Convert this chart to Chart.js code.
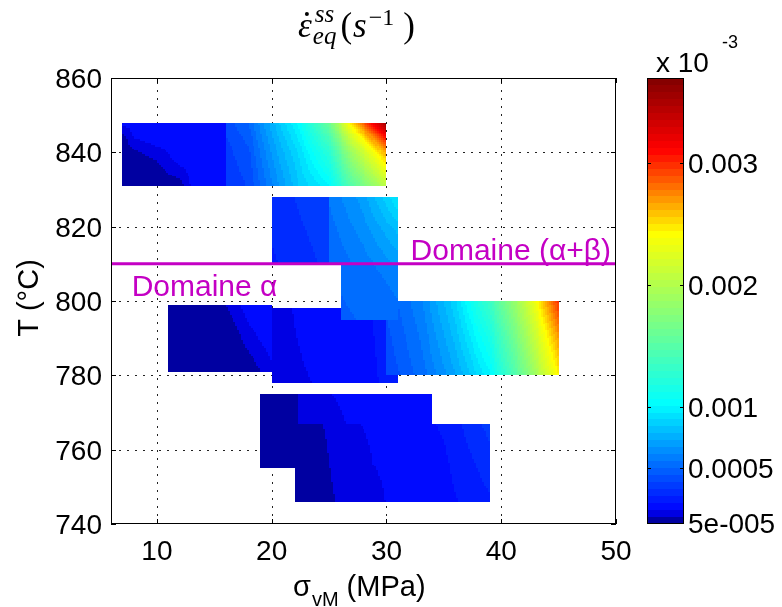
<!DOCTYPE html>
<html>
<head>
<meta charset="utf-8">
<title>Steady-state strain rate map</title>
<script src="https://cdn.jsdelivr.net/npm/chart.js@4.4.1/dist/chart.umd.min.js"></script>
<style>
  html, body { margin: 0; padding: 0; background: #fff; }
  #box { width: 782px; height: 607px; }
</style>
</head>
<body>
<div id="box"><canvas id="rateMap" width="782" height="607"></canvas></div>
<script>
// axis ticks
const sigmaTicks = [10, 20, 30, 40, 50];
const tempTicks = [740, 760, 780, 800, 820, 840, 860];
const rateTicks = [0.003, 0.002, 0.001, 0.0005, 0.00005];
const rateTickLabels = ["0.003", "0.002", "0.001", "0.0005", "5e-005"];
const rateMin = 4e-5;
const rateMax = 3.7e-3;

// alpha / alpha+beta transus
const boundaryT = 810;

// maps (sigma nodes in MPa, T nodes in degC, strain rate in s^-1), drawn in this order
const topLowSigma = [7, 8, 10, 12, 13, 16];
const topLowTemp = [848, 844, 838, 831];
const topLowRate = [
  [1.8e-4, 1.8e-4, 1.9e-4, 1.9e-4, 1.9e-4, 2.0e-4],
  [6e-5, 1.6e-4, 1.9e-4, 1.9e-4, 1.9e-4, 2.0e-4],
  [5e-5, 5e-5, 1.0e-4, 1.8e-4, 1.9e-4, 2.0e-4],
  [5e-5, 5e-5, 5e-5, 7e-5, 1.6e-4, 2.0e-4]
];

const topHighSigma = [16, 18, 20, 22.5, 25, 27, 29, 30];
const topHighTemp = [848, 840, 831];
const topHighRate = [
  [4.0e-4, 5.0e-4, 7.6e-4, 1.05e-3, 1.6e-3, 2.5e-3, 3.2e-3, 3.6e-3],
  [3.6e-4, 4.3e-4, 6.8e-4, 9.2e-4, 1.25e-3, 1.9e-3, 2.4e-3, 2.7e-3],
  [3.3e-4, 3.9e-4, 6.0e-4, 8.5e-4, 1.0e-3, 1.5e-3, 1.85e-3, 2.05e-3]
];

const midLeftSigma = [11, 15, 16.5, 18, 20];
const midLeftTemp = [799, 790, 781];
const midLeftRate = [
  [5e-5, 5e-5, 1.2e-4, 1.9e-4, 1.9e-4],
  [5e-5, 5e-5, 5e-5, 1.3e-4, 1.9e-4],
  [5e-5, 5e-5, 5e-5, 5e-5, 1.4e-4]
];

const midSigma = [20, 24, 28, 31];
const midTemp = [798, 778];
const midRate = [
  [1.5e-4, 1.6e-4, 2.0e-4, 2.5e-4],
  [1.5e-4, 1.55e-4, 1.9e-4, 2.4e-4]
];

const midRightSigma = [30, 33, 36, 39, 42, 45];
const midRightTemp = [800, 790, 780];
const midRightRate = [
  [4.5e-4, 6.0e-4, 8.8e-4, 1.35e-3, 2.05e-3, 3.0e-3],
  [4.2e-4, 5.6e-4, 8.0e-4, 1.15e-3, 1.85e-3, 2.7e-3],
  [3.9e-4, 5.2e-4, 7.2e-4, 1.0e-3, 1.65e-3, 2.45e-3]
];

const columnSigma = [26, 31];
const columnTemp = [810, 795];
const columnRate = [
  [5.2e-4, 5.8e-4],
  [4.8e-4, 5.4e-4]
];

const upLeftSigma = [20, 25];
const upLeftTemp = [828, 810];
const upLeftRate = [
  [2.9e-4, 3.8e-4],
  [2.6e-4, 3.4e-4]
];

const upRightSigma = [25, 28, 31];
const upRightTemp = [828, 819, 810];
const upRightRate = [
  [5.6e-4, 7.0e-4, 9.6e-4],
  [5.3e-4, 6.4e-4, 8.0e-4],
  [5.0e-4, 5.8e-4, 6.8e-4]
];

const lowASigma = [19, 21.8, 23, 28, 34];
const lowATemp = [775, 755];
const lowARate = [
  [5e-5, 6e-5, 1.5e-4, 1.6e-4, 1.9e-4],
  [5e-5, 5e-5, 1.3e-4, 1.6e-4, 1.9e-4]
];

const lowBSigma = [22, 24, 26, 30, 35, 39];
const lowBTemp = [767, 756, 746];
const lowBRate = [
  [5e-5, 8e-5, 1.5e-4, 1.6e-4, 2.2e-4, 3.5e-4],
  [5e-5, 5e-5, 1.4e-4, 1.6e-4, 2.0e-4, 3.0e-4],
  [5e-5, 5e-5, 1.1e-4, 1.55e-4, 1.9e-4, 2.6e-4]
];

const maps = [
  [topLowSigma, topLowTemp, topLowRate],
  [topHighSigma, topHighTemp, topHighRate],
  [midLeftSigma, midLeftTemp, midLeftRate],
  [midSigma, midTemp, midRate],
  [midRightSigma, midRightTemp, midRightRate],
  [columnSigma, columnTemp, columnRate],
  [upLeftSigma, upLeftTemp, upLeftRate],
  [upRightSigma, upRightTemp, upRightRate],
  [lowASigma, lowATemp, lowARate],
  [lowBSigma, lowBTemp, lowBRate]
];

// colour map (jet-like, 64 levels)
const mapStops = [0, 0.03, 0.27, 0.65, 0.84, 1];
const mapColors = [[0, 0, 128], [0, 0, 255], [0, 255, 255], [255, 255, 0], [255, 0, 0], [128, 0, 0]];
const LEVELS = 64;

function levelColor(k) {
  const f = (k + 0.5) / LEVELS;
  let i = 0;
  while (i < mapStops.length - 2 && f > mapStops[i + 1]) i++;
  const t = (f - mapStops[i]) / (mapStops[i + 1] - mapStops[i]);
  const c0 = mapColors[i], c1 = mapColors[i + 1];
  const c = c0.map((v, j) => Math.round(v + (c1[j] - v) * t));
  return `rgb(${c[0]},${c[1]},${c[2]})`;
}
const palette = [];
for (let k = 0; k < LEVELS; k++) palette.push(levelColor(k));

function rateColor(v) {
  let f = (v - rateMin) / (rateMax - rateMin);
  let k = Math.floor(f * LEVELS);
  k = Math.max(0, Math.min(LEVELS - 1, k));
  return palette[k];
}

// interp shading of one map
function drawMap(ctx, xs, ys, sig, tem, rate) {
  for (let i = 0; i < tem.length - 1; i++) {
    for (let j = 0; j < sig.length - 1; j++) {
      const x0 = xs.getPixelForValue(sig[j]), x1 = xs.getPixelForValue(sig[j + 1]);
      const y0 = ys.getPixelForValue(tem[i]), y1 = ys.getPixelForValue(tem[i + 1]);
      const nx = Math.max(1, Math.ceil(Math.abs(x1 - x0) / 2));
      const ny = Math.max(1, Math.ceil(Math.abs(y1 - y0) / 2));
      const v00 = rate[i][j], v01 = rate[i][j + 1], v10 = rate[i + 1][j], v11 = rate[i + 1][j + 1];
      for (let a = 0; a < nx; a++) {
        const u = (a + 0.5) / nx;
        const xa = Math.round(x0 + (x1 - x0) * a / nx);
        const xb = Math.round(x0 + (x1 - x0) * (a + 1) / nx);
        for (let b = 0; b < ny; b++) {
          const w = (b + 0.5) / ny;
          const ya = Math.round(y0 + (y1 - y0) * b / ny);
          const yb = Math.round(y0 + (y1 - y0) * (b + 1) / ny);
          const v = (v00 * (1 - u) + v01 * u) * (1 - w) + (v10 * (1 - u) + v11 * u) * w;
          ctx.fillStyle = rateColor(v);
          ctx.fillRect(Math.min(xa, xb), Math.min(ya, yb), Math.abs(xb - xa), Math.abs(yb - ya));
        }
      }
    }
  }
}

const SANS = '"Liberation Sans", Arial, sans-serif';
const SERIF = '"Liberation Serif", "DejaVu Serif", serif';
const MAGENTA = "#c400c4";

function drawTitle(ctx) {
  const base = 37;
  let x = 298;
  ctx.fillStyle = "#000";
  ctx.textAlign = "left";
  ctx.textBaseline = "alphabetic";
  ctx.font = "italic 35px " + SERIF;
  ctx.fillText("\u03b5", x, base);
  const we = ctx.measureText("\u03b5").width;
  ctx.beginPath();
  ctx.arc(x + we / 2 + 2, base - 23, 2, 0, Math.PI * 2);
  ctx.fill();
  x += we + 1;
  ctx.font = "italic 25px " + SERIF;
  ctx.fillText("eq", x, base + 7);
  ctx.fillText("ss", x + 2, base - 15);
  x += Math.max(ctx.measureText("eq").width, ctx.measureText("ss").width + 2) + 4;
  ctx.font = "35px " + SERIF;
  ctx.fillText("(", x, base);
  x += ctx.measureText("(").width + 1;
  ctx.font = "italic 35px " + SERIF;
  ctx.fillText("s", x, base);
  x += ctx.measureText("s").width + 2;
  ctx.font = "24px " + SERIF;
  ctx.fillText("\u22121", x, base - 12);
  x += ctx.measureText("\u22121").width + 9;
  ctx.font = "35px " + SERIF;
  ctx.fillText(")", x, base);
}

const mapPlugin = {
  id: "rateMap",
  beforeDatasetsDraw(chart) {
    const { ctx, chartArea: a, scales: { x, y } } = chart;
    ctx.save();
    // dotted grid
    ctx.strokeStyle = "#222";
    ctx.lineWidth = 1;
    ctx.setLineDash([2, 6]);
    sigmaTicks.forEach(s => {
      const px = Math.round(x.getPixelForValue(s)) + 0.5;
      if (px < a.left + 2 || px > a.right - 2) return;
      ctx.beginPath(); ctx.moveTo(px, a.bottom); ctx.lineTo(px, a.top); ctx.stroke();
    });
    tempTicks.forEach(t => {
      const py = Math.round(y.getPixelForValue(t)) + 0.5;
      if (py < a.top + 2 || py > a.bottom - 2) return;
      ctx.beginPath(); ctx.moveTo(a.left, py); ctx.lineTo(a.right, py); ctx.stroke();
    });
    ctx.setLineDash([]);
    maps.forEach(m => drawMap(ctx, x, y, m[0], m[1], m[2]));
    ctx.restore();
  },
  afterDatasetsDraw(chart) {
    const { ctx, scales: { x, y } } = chart;
    ctx.save();
    ctx.fillStyle = MAGENTA;
    ctx.font = "30px " + SANS;
    ctx.textAlign = "left";
    ctx.textBaseline = "alphabetic";
    ctx.fillText("Domaine (\u03b1+\u03b2)", x.getPixelForValue(32.1), y.getPixelForValue(811));
    ctx.fillText("Domaine \u03b1", x.getPixelForValue(7.8), y.getPixelForValue(801.3));
    ctx.restore();
  },
  afterDraw(chart) {
    const { ctx, chartArea: a, scales: { x, y, cb } } = chart;
    ctx.save();
    // frame and inward ticks
    ctx.strokeStyle = "#000";
    ctx.lineWidth = 1;
    ctx.strokeRect(a.left + 0.5, a.top + 0.5, a.right - a.left - 1, a.bottom - a.top - 1);
    ctx.beginPath();
    sigmaTicks.forEach(s => {
      const px = Math.round(x.getPixelForValue(s)) + 0.5;
      ctx.moveTo(px, a.bottom); ctx.lineTo(px, a.bottom - 5);
      ctx.moveTo(px, a.top); ctx.lineTo(px, a.top + 5);
    });
    tempTicks.forEach(t => {
      const py = Math.round(y.getPixelForValue(t)) + 0.5;
      ctx.moveTo(a.left, py); ctx.lineTo(a.left + 5, py);
      ctx.moveTo(a.right, py); ctx.lineTo(a.right - 5, py);
    });
    ctx.stroke();

    // tick labels
    ctx.fillStyle = "#000";
    ctx.font = "28px " + SANS;
    ctx.textBaseline = "alphabetic";
    ctx.textAlign = "center";
    sigmaTicks.forEach(s => ctx.fillText(String(s), x.getPixelForValue(s), a.bottom + 36));
    ctx.textAlign = "right";
    tempTicks.forEach(t => ctx.fillText(String(t), a.left - 9, y.getPixelForValue(t) + 10));

    // axis titles
    ctx.textAlign = "left";
    let lx = 293;
    ctx.font = "29px " + SANS;
    ctx.fillText("\u03c3", lx, 596);
    lx += ctx.measureText("\u03c3").width + 1;
    ctx.font = "20px " + SANS;
    ctx.fillText("vM", lx, 606);
    lx += ctx.measureText("vM").width;
    ctx.font = "29px " + SANS;
    ctx.fillText(" (MPa)", lx, 596);

    ctx.save();
    ctx.translate(38, 298);
    ctx.rotate(-Math.PI / 2);
    ctx.textAlign = "center";
    ctx.fillText("T (\u00b0C)", 0, 0);
    ctx.restore();

    // colour bar
    const cbL = a.right + 31, cbR = a.right + 68;
    for (let k = 0; k < LEVELS; k++) {
      const v0 = rateMin + (rateMax - rateMin) * k / LEVELS;
      const v1 = rateMin + (rateMax - rateMin) * (k + 1) / LEVELS;
      const ya = Math.round(cb.getPixelForValue(v0)), yb = Math.round(cb.getPixelForValue(v1));
      ctx.fillStyle = palette[k];
      ctx.fillRect(cbL, yb, cbR - cbL, ya - yb);
    }
    ctx.strokeStyle = "#000";
    ctx.strokeRect(cbL + 0.5, cb.top + 0.5, cbR - cbL - 1, cb.bottom - cb.top - 1);
    ctx.beginPath();
    rateTicks.forEach(v => {
      const py = Math.round(cb.getPixelForValue(v)) + 0.5;
      ctx.moveTo(cbL, py); ctx.lineTo(cbL + 4, py);
      ctx.moveTo(cbR, py); ctx.lineTo(cbR - 4, py);
    });
    ctx.stroke();
    ctx.fillStyle = "#000";
    ctx.font = "28px " + SANS;
    ctx.textAlign = "left";
    rateTicks.forEach((v, i) => ctx.fillText(rateTickLabels[i], cbR + 4, cb.getPixelForValue(v) + 10));
    ctx.fillText("x 10", cbL + 9, 72);
    ctx.font = "18px " + SANS;
    ctx.fillText("-3", cbL + 75, 48);

    drawTitle(ctx);
    ctx.restore();
  }
};

const chart = new Chart(document.getElementById("rateMap"), {
  type: "scatter",
  data: {
    datasets: [{
      label: "Transus",
      data: [{ x: 6, y: boundaryT }, { x: 50, y: boundaryT }],
      showLine: true,
      borderColor: MAGENTA,
      borderWidth: 3,
      pointRadius: 0,
      fill: false
    }]
  },
  options: {
    responsive: false,
    animation: false,
    devicePixelRatio: 1,
    layout: { padding: { left: 111, right: 166, top: 78, bottom: 83 } },
    plugins: { legend: { display: false }, tooltip: { enabled: false } },
    scales: {
      x: { type: "linear", min: 6, max: 50, display: false },
      y: { type: "linear", min: 740, max: 860, display: false },
      cb: { type: "linear", position: "right", min: rateMin, max: rateMax, display: false }
    }
  },
  plugins: [mapPlugin]
});
</script>
</body>
</html>
